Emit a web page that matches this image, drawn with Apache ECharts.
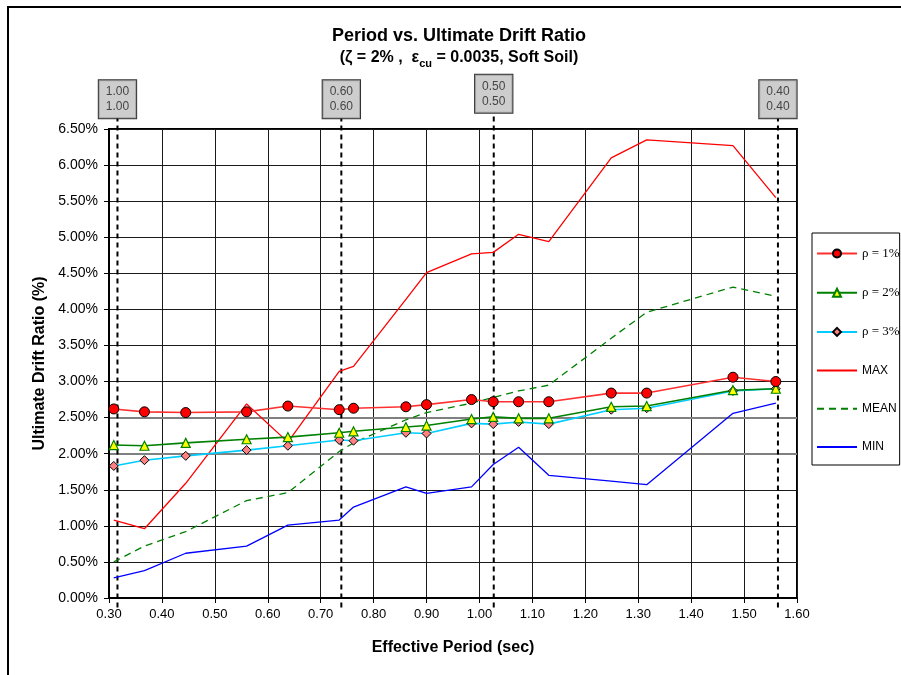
<!DOCTYPE html>
<html>
<head>
<meta charset="utf-8">
<script src="https://cdn.jsdelivr.net/npm/echarts@6/dist/echarts.min.js"></script>
<style>
html,body{margin:0;padding:0;background:#fff;}
#c{width:901px;height:675px;}
</style>
</head>
<body>
<div id="c"></div>
<script>
// ---- data ----
const period = [0.309, 0.367, 0.445, 0.560, 0.638, 0.735, 0.762, 0.861, 0.900, 0.985, 1.026, 1.074, 1.131, 1.249, 1.316, 1.479, 1.560];
const rho1 = [2.62, 2.58, 2.57, 2.58, 2.66, 2.61, 2.63, 2.65, 2.68, 2.75, 2.72, 2.72, 2.72, 2.84, 2.84, 3.06, 3.00];
const rho2 = [2.12, 2.11, 2.15, 2.20, 2.23, 2.29, 2.31, 2.37, 2.39, 2.48, 2.51, 2.49, 2.49, 2.65, 2.66, 2.88, 2.90];
const rho3 = [1.83, 1.91, 1.97, 2.05, 2.11, 2.19, 2.18, 2.29, 2.28, 2.42, 2.41, 2.44, 2.41, 2.61, 2.63, 2.87, 2.90];
const maxV = [1.08, 0.96, 1.59, 2.69, 2.16, 3.14, 3.21, 4.14, 4.51, 4.77, 4.79, 5.04, 4.94, 6.10, 6.35, 6.27, 5.55];
const meanV = [0.50, 0.72, 0.92, 1.35, 1.46, 2.03, 2.15, 2.47, 2.57, 2.70, 2.78, 2.87, 2.95, 3.60, 3.96, 4.31, 4.18];
const minV = [0.28, 0.38, 0.62, 0.72, 1.01, 1.08, 1.26, 1.54, 1.45, 1.54, 1.85, 2.09, 1.70, 1.62, 1.57, 2.56, 2.70];
const refPeriods = [0.316, 0.739, 1.027, 1.564];
const refLabels = ['1.00\n1.00', '0.60\n0.60', '0.50\n0.50', '0.40\n0.40'];
const seriesNames = ['ρ = 1%', 'ρ = 2%', 'ρ = 3%', 'MAX', 'MEAN', 'MIN'];
const greyGridValues = [2.0, 2.5];
const xTicks = {min: 0.3, max: 1.6, step: 0.1};
const yTicks = {min: 0, max: 6.5, step: 0.5};

// ---- layout constants ----
const refTop = [6.648, 6.648, 6.726, 6.648];
const refBottom = -0.13;

const pair = (ys) => period.map((p, i) => [p, ys[i]]);
const F = 'Arial, "Liberation Sans", sans-serif';
const SERIF = '"Liberation Serif", "Times New Roman", serif';

const refSeries = refPeriods.map((p, i) => ({
  type: 'line', name: 'ref' + i, data: [[p, refBottom], [p, refTop[i]]],
  showSymbol: false, symbol: 'none', clip: false, silent: true, z: 1,
  lineStyle: {color: '#000', width: 2, type: [5, 4]}
}));

const legendData = seriesNames.map(n => n.startsWith('ρ') ? {name: n} : {name: n, itemStyle: {opacity: 0}});

const chart = echarts.init(document.getElementById('c'), null, {renderer: 'canvas'});
chart.setOption({
  animation: false,
  backgroundColor: '#fff',
  grid: {left: 109, right: 104, top: 129, bottom: 77, show: true, borderColor: '#000', borderWidth: 2, backgroundColor: 'transparent'},
  graphic: [
    {type: 'rect', shape: {x: 8, y: 7, width: 1000, height: 1000}, style: {fill: 'none', stroke: '#000', lineWidth: 2}, silent: true},
    {type: 'text', x: 459, y: 36, style: {text: 'Period vs. Ultimate Drift Ratio', font: 'bold 18px ' + F, fill: '#000', textAlign: 'center', textVerticalAlign: 'middle'}},
    {type: 'text', x: 459, y: 58, style: {
      text: '(ζ = 2% ,  ε{sub|cu} = 0.0035, Soft Soil)', font: 'bold 16px ' + F, fill: '#000', textAlign: 'center', textVerticalAlign: 'middle',
      rich: {sub: {fontSize: 11, fontWeight: 'bold', fontFamily: F, verticalAlign: 'bottom', lineHeight: 22, fill: '#000'}}
    }}
  ],
  legend: {
    data: legendData, orient: 'vertical', left: 812, top: 233,
    backgroundColor: '#fff', borderColor: '#000', borderWidth: 1,
    padding: [14, 0, 12, 4], itemGap: 26.2, itemWidth: 40, itemHeight: 10,
    formatter: n => n.startsWith('ρ') ? '{s|' + n + '}' : '{a|' + n + '}',
    textStyle: {color: '#000', rich: {
      s: {fontFamily: SERIF, fontSize: 13, color: '#000'},
      a: {fontFamily: F, fontSize: 12, color: '#000'}
    }}
  },
  xAxis: {
    type: 'value', min: xTicks.min, max: xTicks.max, interval: xTicks.step,
    name: 'Effective Period (sec)', nameLocation: 'middle', nameGap: 42,
    nameTextStyle: {fontFamily: F, fontSize: 16, fontWeight: 'bold', color: '#000'},
    axisLine: {show: true, onZero: false, lineStyle: {color: '#000', width: 2}},
    axisTick: {show: true, length: 5, lineStyle: {color: '#000'}},
    axisLabel: {fontFamily: F, fontSize: 13, color: '#000', margin: 10, formatter: v => v.toFixed(2), showMinLabel: true, showMaxLabel: true},
    splitLine: {show: true, lineStyle: {color: '#1a1a1a', width: 1}}
  },
  yAxis: {
    type: 'value', min: yTicks.min, max: yTicks.max, interval: yTicks.step,
    name: 'Ultimate Drift Ratio (%)', nameLocation: 'middle', nameGap: 59,
    nameTextStyle: {fontFamily: F, fontSize: 16, fontWeight: 'bold', color: '#000'},
    axisLine: {show: true, lineStyle: {color: '#000', width: 2}},
    axisTick: {show: true, length: 5, lineStyle: {color: '#000'}},
    axisLabel: {fontFamily: F, fontSize: 14, color: '#000', margin: 11, formatter: v => v.toFixed(2) + '%'},
    splitLine: {show: true, lineStyle: {color: '#1a1a1a', width: 1}}
  },
  series: [
    ...refSeries,
    {type: 'scatter', name: 'refLabels', data: refPeriods.map((p, i) => [p, refTop[i], refLabels[i]]),
     symbolSize: 0, clip: false, silent: true, z: 5,
     label: {show: true, position: 'top', distance: 0, formatter: p => p.data[2],
       fontFamily: F, fontSize: 12, lineHeight: 15, color: '#222', backgroundColor: '#c0c0c0',
       borderColor: '#000', borderWidth: 1, padding: [4, 7, 4, 7]}},
    {type: 'line', name: 'MAX', data: pair(maxV), showSymbol: false, symbol: 'none', z: 3,
     lineStyle: {color: '#ff0000', width: 1.3}, itemStyle: {color: '#ff0000'},
     markLine: {silent: true, symbol: 'none', label: {show: false}, z: 0,
       lineStyle: {color: '#808080', width: 2, type: 'solid'},
       data: greyGridValues.map(v => ({yAxis: v}))}},
    {type: 'line', name: 'MEAN', data: pair(meanV), showSymbol: false, symbol: 'none', z: 3,
     lineStyle: {color: '#008000', width: 1.3, type: [7, 5]}, itemStyle: {color: '#008000'}},
    {type: 'line', name: 'MIN', data: pair(minV), showSymbol: false, symbol: 'none', z: 3,
     lineStyle: {color: '#0000ff', width: 1.3}, itemStyle: {color: '#0000ff'}},
    {type: 'line', name: 'ρ = 3%', data: pair(rho3), symbol: 'diamond', symbolSize: 9, z: 4,
     lineStyle: {color: '#00ccff', width: 1.6},
     itemStyle: {color: '#ff8080', borderColor: '#000', borderWidth: 1}},
    {type: 'line', name: 'ρ = 2%', data: pair(rho2), symbol: 'triangle', symbolSize: 9, z: 4,
     lineStyle: {color: '#008000', width: 1.6},
     itemStyle: {color: '#ffff00', borderColor: '#008000', borderWidth: 1.2}},
    {type: 'line', name: 'ρ = 1%', data: pair(rho1), symbol: 'circle', symbolSize: 10, z: 4,
     lineStyle: {color: '#ff3030', width: 1.6},
     itemStyle: {color: '#ff0000', borderColor: '#000', borderWidth: 1}}
  ]
});
</script>
</body>
</html>
